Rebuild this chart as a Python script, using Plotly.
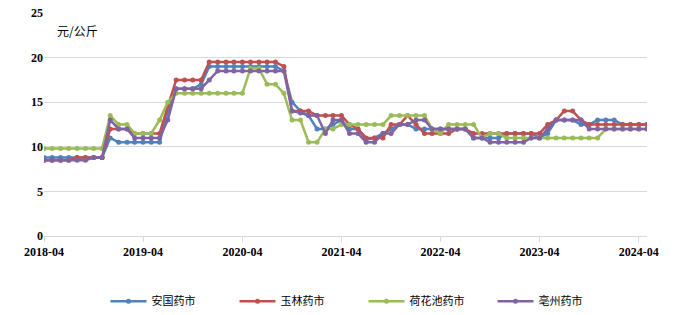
import pandas as pd
import plotly.graph_objects as go

months = pd.date_range("2018-04-01", periods=74, freq="MS")

anguo = [8.8]*8 + [11] + [10.5]*6 + [14] + [16.5]*3 + [17] + [19]*9 + [18.5, 15, 14, 13.5, 12, 12, 12.5, 13, 12, 12, 10.8, 11, 11.5, 12, 12.5, 12.5] \
    + [12]*7 + [11]*4 + [11.5]*4 + [11, 11.5, 13, 13, 13, 12.5, 12.5, 13, 13, 13] + [12.5]*4
yulin = [8.5]*4 + [8.8]*4 + [12]*3 + [11.5]*4 + [14.5] + [17.5]*4 + [19.5]*9 + [19, 14, 14, 14] + [13.5]*4 \
    + [12.5, 12, 11, 11, 11, 12.5, 12.5, 13.5, 12.5] + [11.5]*4 + [12, 12] + [11.5]*9 + [12.5, 13, 14, 14, 13] + [12.5]*8
hehuachi = [9.8]*8 + [13.5, 12.5, 12.5, 11.5, 11.5, 11.5, 13, 15] + [16]*9 + [18.8, 18.8, 17, 17, 16, 13, 13, 10.5, 10.5, 12, 12] \
    + [12.5]*6 + [13.5]*5 + [12, 11.5] + [12.5]*4 + [11, 11.5, 11.5] + [11]*12 + [12]*6
bozhou = [8.5]*6 + [8.8]*2 + [13, 12, 12] + [11]*4 + [13] + [16.5]*4 + [17.5] + [18.5]*9 + [14, 13.8, 13.5, 13.5, 11.5, 13, 13, 11.5, 11.5, 10.5, 10.5, 11.5, 11.5, 12.5, 12.5, 13, 13] \
    + [12]*5 + [11, 11] + [10.5]*5 + [11, 11, 12] + [13]*4 + [12]*8

series_names = ["安国药市", "玉林药市", "荷花池药市", "亳州药市"]
series_values = [anguo, yulin, hehuachi, bozhou]
colors = ["#4F81BD", "#C0504D", "#9BBB59", "#8064A2"]

tick_dates = pd.date_range("2018-04-01", periods=7, freq="12MS")
tick_labels = ["2018-04", "2019-04", "2020-04", "2021-04", "2022-04", "2023-04", "2024-04"]
y_ticks = [0, 5, 10, 15, 20, 25]

fig = go.Figure()
for name, vals, c in zip(series_names, series_values, colors):
    fig.add_trace(go.Scatter(
        x=months, y=vals, name=name, mode="lines+markers",
        line=dict(color=c, width=2.5),
        marker=dict(color=c, size=5),
    ))

fig.update_layout(
    width=678, height=315,
    margin=dict(l=44, r=31, t=13, b=79, autoexpand=False),
    paper_bgcolor="white", plot_bgcolor="white",
    showlegend=True,
    legend=dict(
        orientation="h", x=0.102, xanchor="left",
        yref="container", y=0.09, yanchor="top",
        font=dict(family="Noto Sans CJK SC", size=11, color="#000"),
        entrywidth=78, entrywidthmode="pixels",
        itemwidth=36, bgcolor="rgba(0,0,0,0)",
    ),
    font=dict(family="Liberation Serif", color="#000"),
)
fig.update_xaxes(
    type="date", automargin=False,
    range=["2018-04-01", "2024-05-01"],
    tickvals=tick_dates, ticktext=tick_labels,
    showgrid=False, showline=True, linecolor="#D9D9D9", linewidth=1,
    ticks="outside", ticklen=5, tickcolor="#D9D9D9",
    tickfont=dict(family="Liberation Serif", size=12, color="#000", weight="bold"),
    zeroline=False,
)
fig.update_yaxes(
    range=[0, 25], tickvals=y_ticks, automargin=False,
    showgrid=True, gridcolor="#D9D9D9", gridwidth=1,
    showline=False, zeroline=False,
    tickfont=dict(family="Liberation Serif", size=12, color="#000", weight="bold"),
    ticks="",
)
fig.add_annotation(
    text="元/公斤", xref="paper", yref="paper", x=0.018, y=0.92,
    xanchor="left", yanchor="middle", showarrow=False,
    font=dict(family="Noto Sans CJK SC", size=12, color="#000"),
)
fig.write_html("out.html")
